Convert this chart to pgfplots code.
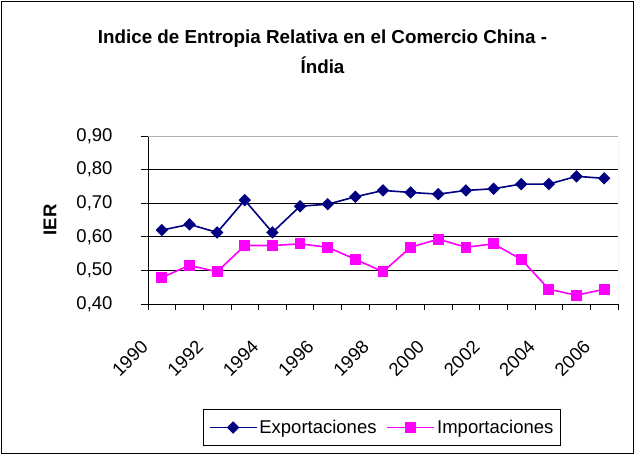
\documentclass[border=0pt]{standalone}
\usepackage{fontspec}
\setmainfont{Liberation Sans}
\usepackage{pgfplots}
\pgfplotsset{compat=1.18}
\definecolor{navy}{RGB}{0,0,128}
\definecolor{mag}{RGB}{255,0,255}

\begin{document}
\begin{tikzpicture}[x=1pt,y=1pt]
% page = 639 x 456 px, 1px = 1pt, origin at the axis' lower left corner
\useasboundingbox (-148,304) rectangle (491,-152);
\draw[black, line width=1pt] (-146,302) rectangle (485,-149);
\node[font=\fontsize{18.8}{22}\selectfont\bfseries, anchor=base] at (174.5,261)
  {Indice de Entropia Relativa en el Comercio China -};
\node[font=\fontsize{18.8}{22}\selectfont\bfseries, anchor=base] at (174.5,231) {Índia};
\begin{axis}[
    at={(0pt,0pt)}, anchor=south west,
    scale only axis,
    width=470pt, height=168pt,
    xmin=1989.5, xmax=2006.5,
    ymin=0.4, ymax=0.9,
    axis lines=left,
    axis line style={-, black, line width=0.8pt},
    xtick={1990,1992,...,2006},
    major x tick style={draw=none},
    minor xtick={1989.5,1990.5,...,2006.5},
    minor x tick style={black, line width=0.8pt},
    minor tick length=6pt,
    ytick={0.4,0.5,0.6,0.7,0.8,0.9},
    y tick style={black, line width=0.8pt},
    major tick length=7pt,
    tick align=outside,
    ymajorgrids,
    grid style={black, line width=0.8pt},
    tick label style={font=\fontsize{18.5}{22}\selectfont},
    xticklabel style={rotate=45, anchor=north east, xshift=-31.8pt, yshift=-0.8pt,
        /pgf/number format/assume math mode=true,
        /pgf/number format/1000 sep={}},
    yticklabel style={xshift=-25pt,
        /pgf/number format/assume math mode=true,
        /pgf/number format/.cd, fixed, fixed zerofill, precision=2, use comma},
    ylabel={\textbf{IER}},
    ylabel style={at={(axis description cs:-0.2085,0.5)}, anchor=center,
        font=\fontsize{18.5}{22}\selectfont},
    legend columns=2,
    legend style={at={(0.498,-0.735)}, anchor=center, draw=black, line width=0.8pt,
        font=\fontsize{18.5}{22}\selectfont, inner xsep=5pt, inner ysep=8.5pt,
        /tikz/every even column/.append style={column sep=8pt}},
    legend image code/.code={
        \draw[mark repeat=2, mark phase=2, #1] plot coordinates {(0pt,0pt) (23.5pt,0pt) (47pt,0pt)};
    },
]
\addplot[color=navy, line width=1.6pt, mark=square*, mark size=3.6pt,
    mark options={rotate=45, solid, fill=navy}] coordinates {
    (1990,0.620) (1991,0.637) (1992,0.613) (1993,0.709) (1994,0.613)
    (1995,0.691) (1996,0.697) (1997,0.719) (1998,0.738) (1999,0.732)
    (2000,0.727) (2001,0.738) (2002,0.743) (2003,0.757) (2004,0.757)
    (2005,0.780) (2006,0.774)
};
\addlegendentry{Exportaciones}
\addplot[color=mag, line width=1.6pt, mark=square*, mark size=4.6pt,
    mark options={solid, fill=mag}] coordinates {
    (1990,0.479) (1991,0.515) (1992,0.496) (1993,0.574) (1994,0.574)
    (1995,0.579) (1996,0.569) (1997,0.533) (1998,0.496) (1999,0.569)
    (2000,0.593) (2001,0.569) (2002,0.579) (2003,0.533) (2004,0.444)
    (2005,0.426) (2006,0.444)
};
\addlegendentry{Importaciones}
\draw[gray!60, line width=0.8pt] (rel axis cs:0,1) -- (rel axis cs:1,1) -- (rel axis cs:1,0);
\end{axis}
\end{tikzpicture}
\end{document}
